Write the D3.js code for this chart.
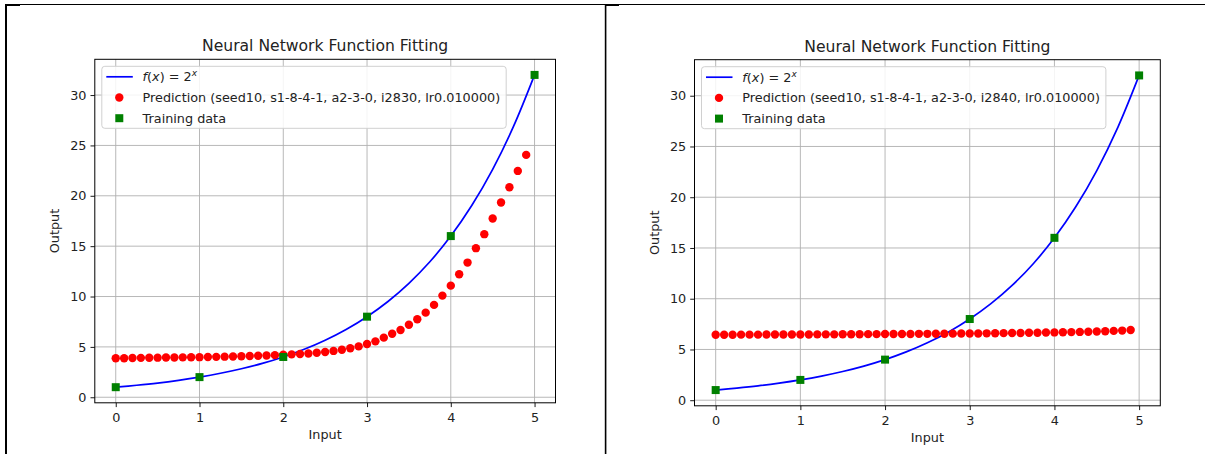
<!DOCTYPE html>
<html lang="en">
<head>
<meta charset="utf-8">
<title>Neural Network Function Fitting</title>
<script src="https://d3js.org/d3.v7.min.js"></script>
<style>
  body { margin: 0; background: #fff; }
  svg { display: block; font-family: "DejaVu Sans", sans-serif; }
</style>
</head>
<body>
<div id="chart"></div>
<script>
// tick values shared by both panels
var xTicks = [0, 1, 2, 3, 4, 5];
var yTicks = [0, 5, 10, 15, 20, 25, 30];

// training data (green squares)
var trainX = [0, 1, 2, 3, 4, 5];
var trainY = [1, 2, 4, 8, 16, 32];

// target curve f(x) = 2^x
var curveX = [0, 0.25, 0.5, 0.75, 1, 1.25, 1.5, 1.75, 2, 2.25, 2.5, 2.75, 3, 3.25, 3.5, 3.75, 4, 4.25, 4.5, 4.75, 5];
var curveY = [1, 1.19, 1.41, 1.68, 2, 2.38, 2.83, 3.36, 4, 4.76, 5.66, 6.73, 8, 9.51, 11.31, 13.45, 16, 19.03, 22.63, 26.91, 32];

// prediction inputs (red dots)
var predX = [0, 0.1, 0.2, 0.3, 0.4, 0.5, 0.6, 0.7, 0.8, 0.9,
  1, 1.1, 1.2, 1.3, 1.4, 1.5, 1.6, 1.7, 1.8, 1.9,
  2, 2.1, 2.2, 2.3, 2.4, 2.5, 2.6, 2.7, 2.8, 2.9,
  3, 3.1, 3.2, 3.3, 3.4, 3.5, 3.6, 3.7, 3.8, 3.9,
  4, 4.1, 4.2, 4.3, 4.4, 4.5, 4.6, 4.7, 4.8, 4.9];

// predictions after 2830 iterations (left)
var predLeft = [3.87, 3.88, 3.89, 3.91, 3.92, 3.93, 3.94, 3.95, 3.96, 3.97,
  3.98, 4.00, 4.01, 4.03, 4.05, 4.07, 4.09, 4.12, 4.15, 4.18,
  4.22, 4.26, 4.30, 4.35, 4.42, 4.50, 4.60, 4.72, 4.87, 5.05,
  5.28, 5.55, 5.92, 6.30, 6.68, 7.20, 7.74, 8.40, 9.17, 10.09,
  11.08, 12.21, 13.37, 14.80, 16.19, 17.74, 19.33, 20.85, 22.47, 24.06];

// predictions after 2840 iterations (right)
var predRight = [6.45, 6.45, 6.45, 6.46, 6.46, 6.46, 6.47, 6.47, 6.47, 6.48,
  6.48, 6.48, 6.49, 6.49, 6.49, 6.50, 6.50, 6.50, 6.51, 6.51,
  6.52, 6.52, 6.53, 6.53, 6.54, 6.54, 6.55, 6.55, 6.56, 6.57,
  6.57, 6.58, 6.59, 6.60, 6.61, 6.62, 6.63, 6.64, 6.65, 6.67,
  6.68, 6.70, 6.71, 6.73, 6.75, 6.77, 6.80, 6.83, 6.86, 6.92];

var predLabels = [
  "Prediction (seed10, s1-8-4-1, a2-3-0, i2830, lr0.010000)",
  "Prediction (seed10, s1-8-4-1, a2-3-0, i2840, lr0.010000)"
];

var fs = "12.8px";

var svg = d3.select("#chart")
  .append("svg")
  .attr("width", 1205)
  .attr("height", 454);

svg.append("rect").attr("width", 1205).attr("height", 454).attr("fill", "#fff");

// outer frame of the screenshot
svg.append("line").attr("x1", 5).attr("x2", 1205).attr("y1", 4.5).attr("y2", 4.5)
  .attr("stroke", "#000").attr("stroke-width", 1.2);
svg.append("line").attr("x1", 6).attr("x2", 6).attr("y1", 4).attr("y2", 454)
  .attr("stroke", "#000").attr("stroke-width", 2);
svg.append("line").attr("x1", 605.6).attr("x2", 605.6).attr("y1", 4).attr("y2", 454)
  .attr("stroke", "#000").attr("stroke-width", 1.6);
svg.append("rect").attr("x", 5).attr("y", 4).attr("width", 15).attr("height", 2).attr("fill", "#000");
svg.append("rect").attr("x", 605).attr("y", 4).attr("width", 14).attr("height", 2).attr("fill", "#000");

function drawPanel(box, pred, label) {
  var x = d3.scaleLinear().domain([-0.25, 5.25]).range([box.x0, box.x1]);
  var y = d3.scaleLinear().domain([-0.55, 33.55]).range([box.y1, box.y0]);
  var g = svg.append("g");

  // grid
  g.append("g").selectAll("line").data(xTicks).enter().append("line")
    .attr("x1", function (d) { return x(d); }).attr("x2", function (d) { return x(d); })
    .attr("y1", box.y0).attr("y2", box.y1)
    .attr("stroke", "#b0b0b0").attr("stroke-width", 0.9);
  g.append("g").selectAll("line").data(yTicks).enter().append("line")
    .attr("y1", function (d) { return y(d); }).attr("y2", function (d) { return y(d); })
    .attr("x1", box.x0).attr("x2", box.x1)
    .attr("stroke", "#b0b0b0").attr("stroke-width", 0.9);

  // axes
  var xAxis = g.append("g")
    .attr("transform", "translate(0," + box.y1 + ")")
    .call(d3.axisBottom(x).tickValues(xTicks).tickFormat(d3.format("d")).tickSize(4.3).tickPadding(5.5));
  var yAxis = g.append("g")
    .attr("transform", "translate(" + box.x0 + ",0)")
    .call(d3.axisLeft(y).tickValues(yTicks).tickFormat(d3.format("d")).tickSize(4.3).tickPadding(4));
  [xAxis, yAxis].forEach(function (a) {
    a.select(".domain").remove();
    a.selectAll("line").attr("stroke", "#000").attr("stroke-width", 0.9);
    a.selectAll("text").attr("fill", "#222").style("font-size", fs)
      .style("font-family", "DejaVu Sans");
  });

  // spines
  g.append("rect")
    .attr("x", box.x0).attr("y", box.y0)
    .attr("width", box.x1 - box.x0).attr("height", box.y1 - box.y0)
    .attr("fill", "none").attr("stroke", "#000").attr("stroke-width", 1);

  // blue target curve
  var line = d3.line()
    .x(function (d, i) { return x(curveX[i]); })
    .y(function (d) { return y(d); })
    .curve(d3.curveCatmullRom);
  g.append("path").datum(curveY)
    .attr("d", line)
    .attr("fill", "none").attr("stroke", "#0000ff").attr("stroke-width", 1.7);

  // red predictions
  g.append("g").selectAll("circle").data(pred).enter().append("circle")
    .attr("cx", function (d, i) { return x(predX[i]); })
    .attr("cy", function (d) { return y(d); })
    .attr("r", 4.2)
    .attr("fill", "#ff0000");

  // green training squares
  g.append("g").selectAll("rect").data(trainY).enter().append("rect")
    .attr("x", function (d, i) { return x(trainX[i]) - 4; })
    .attr("y", function (d) { return y(d) - 4; })
    .attr("width", 8).attr("height", 8)
    .attr("fill", "#008000");

  // title and axis labels
  g.append("text")
    .attr("x", (box.x0 + box.x1) / 2).attr("y", box.y0 - 8)
    .attr("text-anchor", "middle")
    .style("font-size", "15.6px").attr("fill", "#222")
    .text("Neural Network Function Fitting");
  g.append("text")
    .attr("x", (box.x0 + box.x1) / 2).attr("y", box.y1 + 36.5)
    .attr("text-anchor", "middle")
    .style("font-size", fs).attr("fill", "#222")
    .text("Input");
  g.append("text")
    .attr("transform", "translate(" + (box.x0 - 35.8) + "," + ((box.y0 + box.y1) / 2) + ") rotate(-90)")
    .attr("text-anchor", "middle")
    .style("font-size", fs).attr("fill", "#222")
    .text("Output");

  // legend
  var lx = box.x0 + 7, ly = box.y0 + 7;
  var leg = g.append("g").attr("transform", "translate(" + lx + "," + ly + ")");
  var frame = leg.append("rect")
    .attr("rx", 3).attr("ry", 3)
    .attr("height", 62)
    .attr("fill", "#fff").attr("fill-opacity", 0.85)
    .attr("stroke", "#d0d0d0").attr("stroke-width", 1);
  var rows = [10.5, 31.2, 51.9];
  leg.append("line").attr("x1", 4.5).attr("x2", 31).attr("y1", rows[0]).attr("y2", rows[0])
    .attr("stroke", "#0000ff").attr("stroke-width", 1.7);
  leg.append("circle").attr("cx", 17.5).attr("cy", rows[1]).attr("r", 4.2).attr("fill", "#ff0000");
  leg.append("rect").attr("x", 13.5).attr("y", rows[2] - 4).attr("width", 8).attr("height", 8).attr("fill", "#008000");

  var t0 = leg.append("text").attr("x", 40.8).attr("y", rows[0] + 4.5)
    .style("font-size", fs).attr("fill", "#222");
  t0.append("tspan").style("font-style", "italic").text("f");
  t0.append("tspan").text("(");
  t0.append("tspan").style("font-style", "italic").text("x");
  t0.append("tspan").text(") = 2");
  t0.append("tspan").style("font-style", "italic").style("font-size", "9px").attr("dy", -5).text("x");
  var t1 = leg.append("text").attr("x", 40.8).attr("y", rows[1] + 4.5)
    .style("font-size", fs).attr("fill", "#222").text(label);
  leg.append("text").attr("x", 40.8).attr("y", rows[2] + 4.5)
    .style("font-size", fs).attr("fill", "#222").text("Training data");
  frame.attr("width", 40.8 + t1.node().getComputedTextLength() + 6);
}

drawPanel({x0: 94.8, x1: 555.5, y0: 59.3, y1: 402.8}, predLeft, predLabels[0]);
drawPanel({x0: 694.5, x1: 1160.3, y0: 59.7, y1: 405.8}, predRight, predLabels[1]);
</script>
</body>
</html>
